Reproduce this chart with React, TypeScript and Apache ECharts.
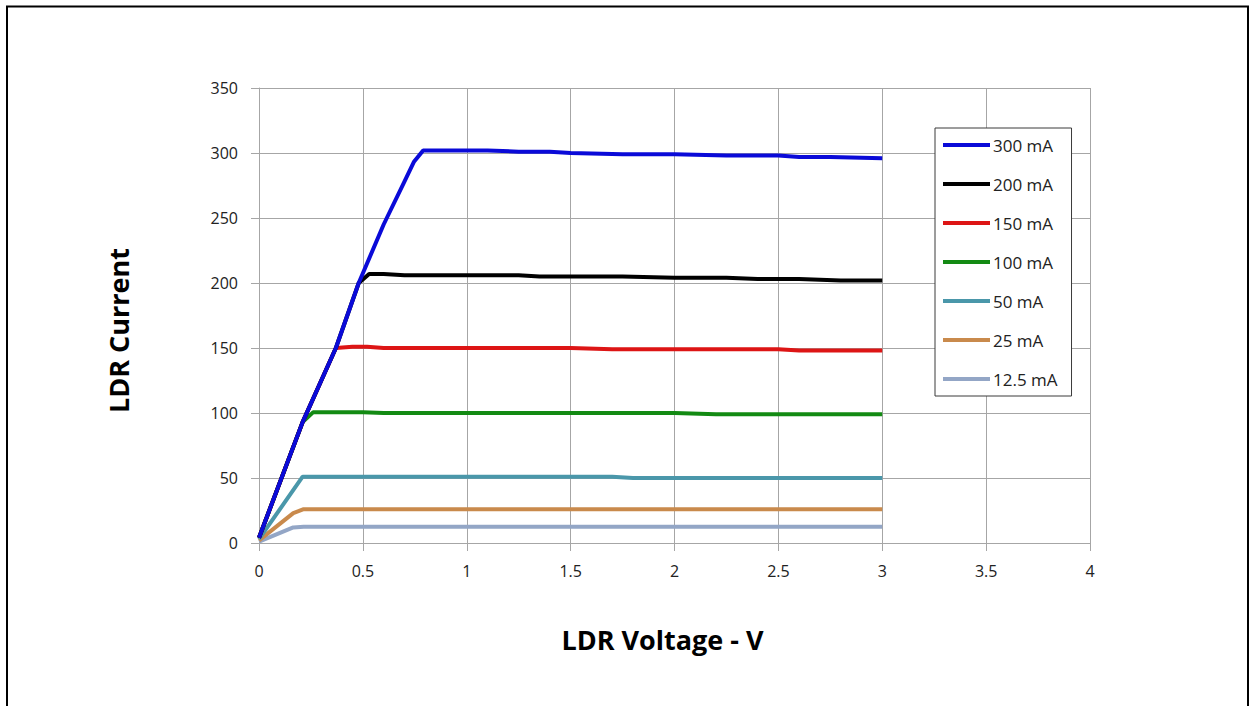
import React, { useEffect, useRef } from "react";
import * as echarts from "echarts";

const seriesNames = ["300 mA", "200 mA", "150 mA", "100 mA", "50 mA", "25 mA", "12.5 mA"];
const seriesColors = ["#0a0ad8", "#000000", "#dd1515", "#138a13", "#4a97aa", "#c98a4c", "#93a6c6"];

const s300: number[][] = [[0, 4], [0.21, 93], [0.37, 150], [0.48, 200], [0.6, 245], [0.7, 278], [0.745, 293], [0.79, 302], [1.0, 302], [1.1, 302], [1.25, 301], [1.4, 301], [1.5, 300], [1.75, 299], [2.0, 299], [2.25, 298], [2.5, 298], [2.6, 297], [2.75, 297], [3.0, 296]];
const s200: number[][] = [[0, 4], [0.21, 93], [0.37, 150], [0.48, 200], [0.53, 207], [0.6, 207], [0.7, 206], [1.0, 206], [1.25, 206], [1.35, 205], [1.75, 205], [2.0, 204], [2.25, 204], [2.4, 203], [2.6, 203], [2.8, 202], [3.0, 202]];
const s150: number[][] = [[0, 4], [0.21, 93], [0.37, 150], [0.45, 151], [0.52, 151], [0.6, 150], [1.0, 150], [1.5, 150], [1.7, 149], [2.0, 149], [2.5, 149], [2.6, 148], [3.0, 148]];
const s100: number[][] = [[0, 4], [0.21, 93], [0.26, 100.5], [0.5, 100.5], [0.6, 100], [1.0, 100], [1.5, 100], [2.0, 100], [2.2, 99], [3.0, 99]];
const s50: number[][] = [[0, 3], [0.21, 51], [0.5, 51], [1.0, 51], [1.7, 51], [1.8, 50], [3.0, 50]];
const s25: number[][] = [[0, 2], [0.165, 23], [0.215, 26], [1.0, 26], [2.0, 26], [3.0, 26]];
const s12: number[][] = [[0, 1], [0.165, 12], [0.215, 12.5], [1.0, 12.5], [2.0, 12.5], [3.0, 12.5]];

const seriesData = [s300, s200, s150, s100, s50, s25, s12];

const xTicks = { min: 0, max: 4, interval: 0.5 };
const yTicks = { min: 0, max: 350, interval: 50 };

export default function App() {
  const ref = useRef<HTMLDivElement>(null);
  useEffect(() => {
    if (!ref.current) return;
    const chart = echarts.init(ref.current, null, { renderer: "svg" });
    const font = "'Open Sans', 'Noto Sans', sans-serif";
    const gridColor = "#a6a6a6";
    chart.setOption({
      animation: false,
      backgroundColor: "#ffffff",
      textStyle: { fontFamily: font },
      grid: { left: 259, top: 88, width: 831, height: 455, containLabel: false },
      graphic: [
        {
          type: "rect",
          shape: { x: 7, y: 6.5, width: 1241, height: 740 },
          style: { fill: "none", stroke: "#000", lineWidth: 2 },
          silent: true,
        },
      ],
      legend: {
        orient: "vertical",
        left: 935,
        top: 128,
        data: seriesNames,
        icon: "rect",
        itemWidth: 47,
        itemHeight: 4,
        itemGap: 19,
        padding: [7, 14, 7, 8],
        borderColor: "#3a3a3a",
        borderWidth: 1,
        backgroundColor: "#ffffff",
        textStyle: { fontFamily: font, fontSize: 17, color: "#222", lineHeight: 20, padding: [0, 0, 0, -2] },
      },
      xAxis: {
        type: "value",
        min: xTicks.min,
        max: xTicks.max,
        interval: xTicks.interval,
        name: "LDR Voltage - V",
        nameLocation: "middle",
        nameGap: 83,
        nameTextStyle: { fontFamily: font, fontSize: 27, fontWeight: "bold", color: "#000", padding: [0, 24, 0, 0] },
        axisLine: { show: true, lineStyle: { color: gridColor, width: 1 } },
        axisTick: { show: true, length: 8, lineStyle: { color: gridColor } },
        axisLabel: { fontFamily: font, fontSize: 16, color: "#222", margin: 20 },
        splitLine: { show: true, lineStyle: { color: gridColor, width: 1 } },
      },
      yAxis: {
        type: "value",
        min: yTicks.min,
        max: yTicks.max,
        interval: yTicks.interval,
        name: "LDR Current",
        nameLocation: "middle",
        nameRotate: 90,
        nameGap: 127,
        nameTextStyle: { fontFamily: font, fontSize: 27, fontWeight: "bold", color: "#000", padding: [0, 30, 0, 0] },
        axisLine: { show: true, lineStyle: { color: gridColor, width: 1 } },
        axisTick: { show: true, length: 8, lineStyle: { color: gridColor } },
        axisLabel: { fontFamily: font, fontSize: 16, color: "#222", margin: 21 },
        splitLine: { show: true, lineStyle: { color: gridColor, width: 1 } },
      },
      series: seriesNames.map((name, i) => ({
        name,
        type: "line",
        data: seriesData[i],
        showSymbol: false,
        symbol: "none",
        z: 10 - i,
        color: seriesColors[i],
        itemStyle: { color: seriesColors[i] },
        lineStyle: { color: seriesColors[i], width: 4 },
      })),
    });
    return () => chart.dispose();
  }, []);
  return (
    <div
      ref={ref}
      style={{ position: "fixed", left: 0, top: 0, width: 1250, height: 706 }}
    />
  );
}
